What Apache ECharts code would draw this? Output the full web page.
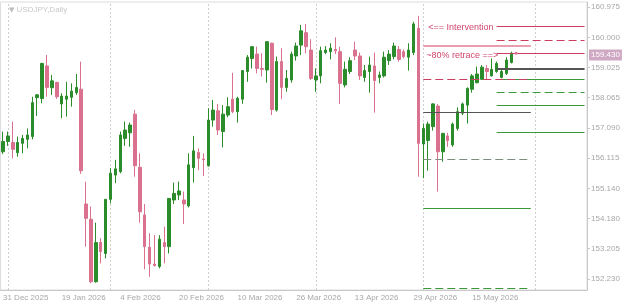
<!DOCTYPE html>
<html><head><meta charset="utf-8">
<script src="https://cdn.jsdelivr.net/npm/echarts@6/dist/echarts.min.js"></script>
<style>html,body{margin:0;padding:0;background:#fff}#c{width:625px;height:305px}</style>
</head><body><div id="c"></div>
<script>
const categories = [
'31 Dec 2025',
'2 Jan 2026','5 Jan 2026','6 Jan 2026','7 Jan 2026','8 Jan 2026','9 Jan 2026','12 Jan 2026','13 Jan 2026','14 Jan 2026','15 Jan 2026','16 Jan 2026','19 Jan 2026','20 Jan 2026','21 Jan 2026','22 Jan 2026','23 Jan 2026','26 Jan 2026','27 Jan 2026','28 Jan 2026','29 Jan 2026','30 Jan 2026',
'2 Feb 2026','3 Feb 2026','4 Feb 2026','5 Feb 2026','6 Feb 2026','9 Feb 2026','10 Feb 2026','11 Feb 2026','12 Feb 2026','13 Feb 2026','16 Feb 2026','17 Feb 2026','18 Feb 2026','19 Feb 2026','20 Feb 2026','23 Feb 2026','24 Feb 2026','25 Feb 2026','26 Feb 2026','27 Feb 2026',
'2 Mar 2026','3 Mar 2026','4 Mar 2026','5 Mar 2026','6 Mar 2026','9 Mar 2026','10 Mar 2026','11 Mar 2026','12 Mar 2026','13 Mar 2026','16 Mar 2026','17 Mar 2026','18 Mar 2026','19 Mar 2026','20 Mar 2026','23 Mar 2026','24 Mar 2026','25 Mar 2026','26 Mar 2026','27 Mar 2026','30 Mar 2026','31 Mar 2026',
'1 Apr 2026','2 Apr 2026','3 Apr 2026','6 Apr 2026','7 Apr 2026','8 Apr 2026','9 Apr 2026','10 Apr 2026','13 Apr 2026','14 Apr 2026','15 Apr 2026','16 Apr 2026','17 Apr 2026','20 Apr 2026','21 Apr 2026','22 Apr 2026','23 Apr 2026','24 Apr 2026','27 Apr 2026','28 Apr 2026','29 Apr 2026','30 Apr 2026',
'1 May 2026','4 May 2026','5 May 2026','6 May 2026','7 May 2026','8 May 2026','11 May 2026','12 May 2026','13 May 2026','14 May 2026','15 May 2026','18 May 2026','19 May 2026','20 May 2026','21 May 2026','22 May 2026','25 May 2026','26 May 2026','27 May 2026','28 May 2026','29 May 2026',
'1 Jun 2026','2 Jun 2026','3 Jun 2026','4 Jun 2026','5 Jun 2026','8 Jun 2026','9 Jun 2026','10 Jun 2026','11 Jun 2026','12 Jun 2026','15 Jun 2026','16 Jun 2026','17 Jun 2026'
];
const opens = [156.32,156.65,156.62,156.29,156.59,156.72,156.81,158.06,158.03,159.08,158.38,158.55,157.86,158.01,158.07,158.22,158.33,154.64,154.15,152.14,153.41,153.05,154.79,155.57,155.68,156.75,156.93,157.53,155.82,154.29,153.25,152.71,152.63,153.40,153.27,154.77,154.93,154.77,154.58,155.81,156.30,156.09,155.87,157.34,157.64,156.97,157.50,158.01,157.61,158.01,158.90,159.32,159.46,159.00,158.95,159.81,157.66,159.22,158.39,158.63,159.40,159.75,160.15,159.59,158.63,158.76,159.51,159.54,159.61,159.54,158.47,158.90,159.59,159.40,158.71,158.90,159.08,158.71,158.76,159.25,159.38,159.61,159.54,159.36,159.51,160.29,156.57,156.68,157.13,157.79,156.32,156.83,156.54,157.07,157.56,157.82,158.33,158.54,158.65,159.00,158.76,158.90,158.71,158.84,159.19];
const closes = [156.65,156.83,156.40,156.62,156.75,156.86,157.90,158.15,159.16,158.39,158.60,158.09,158.11,158.11,158.27,158.39,155.71,154.18,152.14,153.40,153.11,154.79,155.63,155.77,156.86,157.02,157.18,155.87,154.39,153.27,152.71,152.66,153.51,153.27,154.82,154.98,155.06,154.64,155.90,156.35,156.11,156.07,157.34,157.66,157.02,157.53,157.77,157.61,158.04,158.93,159.36,159.70,159.00,158.97,159.86,157.68,159.22,158.39,158.68,159.46,159.72,160.21,159.70,158.68,158.76,159.57,159.59,159.65,159.57,158.52,158.97,159.25,159.40,158.76,158.93,159.11,158.61,158.79,159.36,159.46,159.72,159.29,159.38,159.59,160.43,156.59,157.07,157.21,157.86,156.32,156.91,156.68,157.21,157.61,157.86,158.36,158.76,158.82,159.04,158.90,158.97,159.16,158.90,159.27,159.49];
const lows = [156.25,156.51,156.11,156.16,156.27,156.43,156.72,157.47,157.88,158.09,158.15,158.02,157.40,157.45,157.77,158.15,155.61,153.27,152.09,152.11,152.73,152.89,154.66,155.31,155.63,156.51,156.48,155.52,154.04,152.54,152.30,152.63,152.57,152.73,153.05,154.64,154.77,154.00,154.53,155.33,155.73,155.54,155.84,157.13,156.86,156.46,157.43,157.56,157.26,157.86,158.57,159.00,158.84,158.74,158.54,157.50,157.61,158.01,158.25,158.54,159.25,159.43,159.49,158.63,158.25,158.52,159.46,159.29,159.46,157.86,158.39,158.82,159.27,158.63,158.57,158.22,157.58,158.52,158.71,159.11,159.29,159.22,159.32,158.93,159.43,155.52,155.47,155.71,157.00,155.04,156.00,156.48,156.48,157.00,157.50,157.23,158.22,158.52,158.63,158.65,158.74,158.86,158.68,158.79,159.16];
const highs = [156.97,156.97,157.29,156.81,156.86,157.07,158.09,158.17,159.18,159.43,158.79,158.57,158.20,158.57,158.52,158.82,159.22,155.36,154.56,154.04,153.54,154.79,155.79,156.06,156.97,157.29,157.26,157.66,156.27,154.64,153.70,153.64,153.64,153.91,154.82,155.33,155.36,155.04,156.27,156.83,156.43,156.27,157.72,157.99,157.86,157.82,158.07,158.86,158.09,158.95,159.43,159.72,159.70,159.49,159.88,159.83,159.38,159.65,158.95,159.54,159.83,160.40,160.43,159.94,159.00,159.70,159.72,159.81,160.00,159.70,159.22,159.36,159.86,159.51,159.11,159.38,159.51,158.90,159.54,159.59,159.83,159.72,159.61,159.81,160.50,160.69,157.23,157.29,157.88,157.86,156.93,156.93,157.26,157.75,157.90,158.39,158.82,159.06,159.11,159.11,159.32,159.22,158.97,159.36,159.54];
const priceTicks = [160.975,160.000,159.025,158.065,157.090,156.115,155.140,154.180,153.205,152.230];
const separatorDates = ['2 Jan 2026','2 Feb 2026','2 Mar 2026','1 Apr 2026','1 May 2026','3 Jun 2026'];
const rightLevels = [160.364,159.914,159.496,158.981,158.660,158.242,157.824,156.956];
const leftLevels = [159.720,158.660,157.600,156.090,154.510,151.940];
const notes = ['<== Intervention','~80% retrace ==>'];
const notePrices = [160.30,159.43];
const currentPrice = 159.430;
const symbolName = 'USDJPY,Daily';

const RED='#cc3d62', GREEN='#3a9a3a', PINK='#eb9db0', DARK='#555555', GREYG='#7f8f7f';
const rightStyles = [
 {color:RED,width:1,type:'solid'},{color:RED,width:1,type:[8,4]},{color:RED,width:1,type:'solid'},
 {color:DARK,width:2,type:'solid'},{color:GREEN,width:1,type:'solid'},{color:GREEN,width:1,type:[8,4]},
 {color:GREEN,width:1,type:'solid'},{color:GREEN,width:1,type:'solid'}];
const leftStyles = [
 {color:PINK,width:2,type:'solid'},{color:RED,width:1,type:[8,4]},{color:DARK,width:1,type:'solid'},
 {color:GREYG,width:1,type:[8,4]},{color:GREEN,width:1,type:'solid'},{color:GREEN,width:1,type:[8,4]}];

const candleData = opens.map((o,i)=>[o,closes[i],lows[i],highs[i]]);
const rStart=101, rEnd=119, lStart=86, lEnd=108;
const sepData = separatorDates.map(d=>({xAxis:d}));
const mlData = [];
rightLevels.forEach((v,i)=>mlData.push([{coord:[categories[rStart],v],lineStyle:rightStyles[i]},{coord:[categories[rEnd],v]}]));
leftLevels.forEach((v,i)=>mlData.push([{coord:[categories[lStart],v],lineStyle:leftStyles[i]},{coord:[categories[lEnd],v]}]));
mlData.push({yAxis:currentPrice,lineStyle:{color:'rgba(0,0,0,0)',width:1},label:{show:true,position:'end',distance:2,formatter:currentPrice.toFixed(3),
  backgroundColor:'#cfa9c3',color:'#ffffff',fontSize:8,fontFamily:'Liberation Sans',padding:[2,2,1,2]}});

const chart = echarts.init(document.getElementById('c'),null,{renderer:'canvas'});
chart.setOption({
 animation:false,
 title:{text:'{t|▼} '+symbolName,left:4,top:1,textStyle:{fontSize:8,fontWeight:'normal',color:'#c8c8c8',fontFamily:'Liberation Sans',
   rich:{t:{fontSize:7,color:'#bdbdbd',fontFamily:'DejaVu Sans'}}}},
 grid:{left:0,right:38,top:2,bottom:15,show:true,borderColor:'#dcdcdc',borderWidth:1},
 xAxis:{type:'category',data:categories,boundaryGap:true,
   axisLine:{lineStyle:{color:'#c8c8c8'}},
   axisTick:{alignWithLabel:true,interval:(i)=>i%12===0&&i<=96,length:3,lineStyle:{color:'#c8c8c8'}},
   axisLabel:{interval:(i)=>i%12===0&&i<=96,align:'left',margin:4,fontSize:8,color:'#a8a8a8',fontFamily:'Liberation Sans'},
   splitLine:{show:false}},
 yAxis:{type:'value',position:'right',min:151.875,max:161.136,scale:true,
   axisLine:{show:true,lineStyle:{color:'#c8c8c8'}},
   axisTick:{show:true,length:3,customValues:priceTicks,lineStyle:{color:'#c8c8c8'}},
   axisLabel:{customValues:priceTicks,formatter:(v)=>v.toFixed(3),margin:4,fontSize:8,color:'#a8a8a8',fontFamily:'Liberation Sans'},
   splitLine:{show:false}},
 series:[
  {type:'line',data:[],z:0,silent:true,
   markLine:{z:0,silent:true,symbol:['none','none'],animation:false,label:{show:false},
     lineStyle:{color:'#cfcfcf',type:[2,2],width:1},data:sepData}},
  {type:'candlestick',data:candleData,barWidth:3,z:3,
   itemStyle:{color:'#2a8c2a',color0:'#d9718f',borderColor:'#2a8c2a',borderColor0:'#d9718f',borderWidth:1},
   markLine:{silent:true,symbol:['none','none'],animation:false,label:{show:false},data:mlData},
   markPoint:{silent:true,animation:false,data:[
     {coord:[categories[86],notePrices[0]],symbolSize:0,label:{show:true,position:'right',distance:5,formatter:notes[0],color:'#d0466c',fontSize:9,fontFamily:'Liberation Sans'}},
     {coord:[categories[86],notePrices[1]],symbolSize:0,label:{show:true,position:'right',distance:3,formatter:notes[1],color:'#d0466c',fontSize:9,fontFamily:'Liberation Sans'}},
     {coord:[categories[105],closes[104]],symbol:'circle',symbolSize:3,itemStyle:{color:'#d9718f'},label:{show:false}}
   ]}
  }]
});
</script></body></html>
